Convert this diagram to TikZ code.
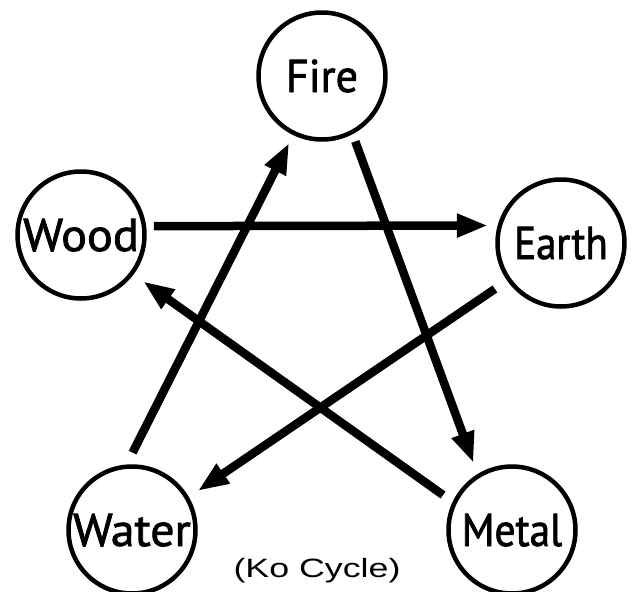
\documentclass[tikz,border=0pt]{standalone}
\usepackage{fontspec}
\setmainfont{PT Sans}
\newfontfamily\elemfont[FakeBold=1.6]{PT Sans}
\newfontfamily\capfont{Liberation Sans}
\usetikzlibrary{arrows.meta}

% horizontally scaled label
\newcommand{\elemlabel}[2]{\scalebox{#1}[1]{#2}}

\begin{document}
\begin{tikzpicture}[x=1pt,y=-1pt,
  element/.style={circle, draw, line width=4.5pt, minimum size=127pt,
    inner sep=0pt, outer sep=0pt, font=\elemfont\fontsize{46}{46}\selectfont,
    text height=32pt, text depth=0pt},
  control/.style={line width=8.5pt, -{Triangle[length=31pt,width=22pt]}}]
\useasboundingbox[fill=white] (0,0) rectangle (633,592);

% the five elements
\node[element] (fire)  at (322,76)  {\elemlabel{0.96}{Fire}};
\node[element] (wood)  at (81,235)  {\elemlabel{1.05}{Wood}};
\node[element] (earth) at (561,243) {\elemlabel{0.89}{Earth}};
\node[element] (water) at (132,530) {\elemlabel{1.04}{Water}};
\node[element] (metal) at (512,530) {\elemlabel{0.90}{Metal}};

% controlling cycle
\draw[control, shorten <=10pt, shorten >=12pt] (wood.8)    -- (earth.164);
\draw[control, shorten <=10pt, shorten >=14pt] (fire.-62)  -- (metal.122);
\draw[control, shorten <=17pt, shorten >=13pt] (earth.215) -- (water.30);
\draw[control, shorten <=14pt, shorten >=14pt] (metal.155) -- (wood.-37);
\draw[control, shorten <=16pt, shorten >=11pt] (water.96)  -- (fire.-116);

\node[font=\capfont\fontsize{26.5}{26.5}\selectfont, anchor=base, inner sep=0pt]
  (caption) at (317,577) {\scalebox{1.35}[1]{(Ko Cycle)}};
\end{tikzpicture}
\end{document}
